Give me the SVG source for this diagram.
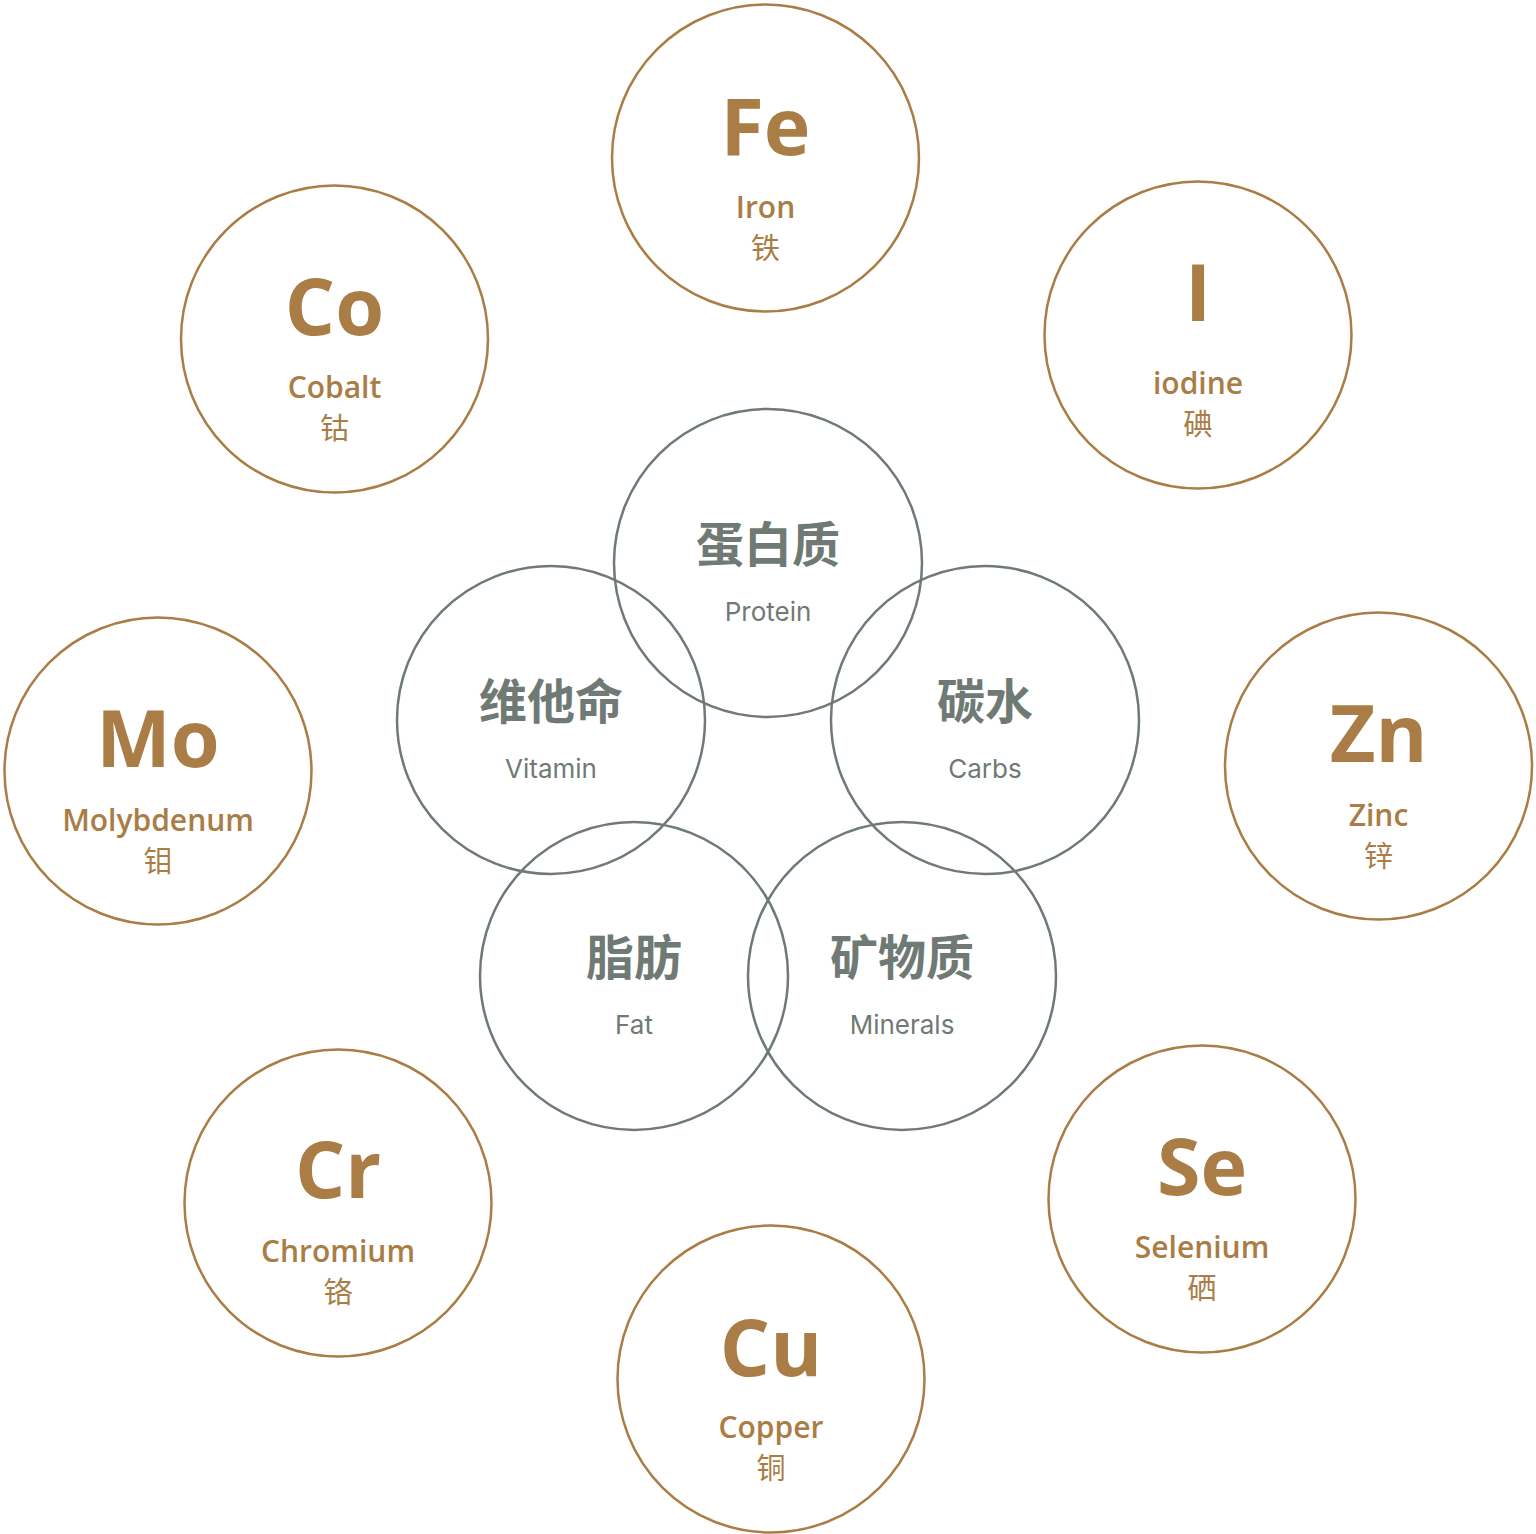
<svg xmlns="http://www.w3.org/2000/svg" width="1536" height="1534" viewBox="0 0 1536 1534">
<style>
.oc{fill:none;stroke:#A97D45;stroke-width:2.5}
.ic{fill:none;stroke:#6F7A75;stroke-width:2.5}
.sym{font-family:"Open Sans","Noto Sans",sans-serif;font-weight:700;font-size:79px;fill:#A97D45;text-anchor:middle}
.en{font-family:"Open Sans","Noto Sans",sans-serif;font-weight:600;font-size:30px;fill:#A97D45;text-anchor:middle}
.cn{font-family:"Noto Sans CJK SC",sans-serif;font-size:29px;fill:#A97D45;text-anchor:middle}
.icn{font-family:"Noto Sans CJK SC",sans-serif;font-weight:700;font-size:48px;fill:#6F7A75;text-anchor:middle}
.ien{font-family:Inter,"Noto Sans",sans-serif;font-size:26px;fill:#6F7A75;text-anchor:middle}
</style>
<rect width="1536" height="1534" fill="#FFFFFF"/>
<g id="connectors"></g>
<g id="fe"><circle class="oc" cx="765.5" cy="158" r="153.5"/><text class="sym" x="765.5" y="155">Fe</text><text class="en" x="765.5" y="218">Iron</text><text class="cn" x="765.5" y="259">铁</text></g>
<g id="co"><circle class="oc" cx="334.5" cy="339" r="153.5"/><text class="sym" x="334.5" y="335">Co</text><text class="en" x="334.5" y="398">Cobalt</text><text class="cn" x="334.5" y="439">钴</text></g>
<g id="i"><circle class="oc" cx="1198" cy="335" r="153.5"/><text class="sym" x="1198" y="321">I</text><text class="en" x="1198" y="394">iodine</text><text class="cn" x="1198" y="435">碘</text></g>
<g id="mo"><circle class="oc" cx="158" cy="771" r="153.5"/><text class="sym" x="158" y="767">Mo</text><text class="en" x="158" y="831">Molybdenum</text><text class="cn" x="158" y="872">钼</text></g>
<g id="zn"><circle class="oc" cx="1378.5" cy="766" r="153.5"/><text class="sym" x="1378.5" y="762">Zn</text><text class="en" x="1378.5" y="826">Zinc</text><text class="cn" x="1378.5" y="867">锌</text></g>
<g id="cr"><circle class="oc" cx="338" cy="1203" r="153.5"/><text class="sym" x="338" y="1198">Cr</text><text class="en" x="338" y="1262">Chromium</text><text class="cn" x="338" y="1303">铬</text></g>
<g id="se"><circle class="oc" cx="1202" cy="1199" r="153.5"/><text class="sym" x="1202" y="1195">Se</text><text class="en" x="1202" y="1258">Selenium</text><text class="cn" x="1202" y="1299">硒</text></g>
<g id="cu"><circle class="oc" cx="771" cy="1379" r="153.5"/><text class="sym" x="771" y="1376">Cu</text><text class="en" x="771" y="1438">Copper</text><text class="cn" x="771" y="1479">铜</text></g>
<g id="protein"><circle class="ic" cx="768" cy="563" r="154"/><text class="icn" x="768" y="562">蛋白质</text><text class="ien" x="768" y="621">Protein</text></g>
<g id="vitamin"><circle class="ic" cx="551" cy="720" r="154"/><text class="icn" x="551" y="719">维他命</text><text class="ien" x="551" y="778">Vitamin</text></g>
<g id="carbs"><circle class="ic" cx="985" cy="720" r="154"/><text class="icn" x="985" y="719">碳水</text><text class="ien" x="985" y="778">Carbs</text></g>
<g id="fat"><circle class="ic" cx="634" cy="976" r="154"/><text class="icn" x="634" y="975">脂肪</text><text class="ien" x="634" y="1034">Fat</text></g>
<g id="minerals"><circle class="ic" cx="902" cy="976" r="154"/><text class="icn" x="902" y="975">矿物质</text><text class="ien" x="902" y="1034">Minerals</text></g>
</svg>
